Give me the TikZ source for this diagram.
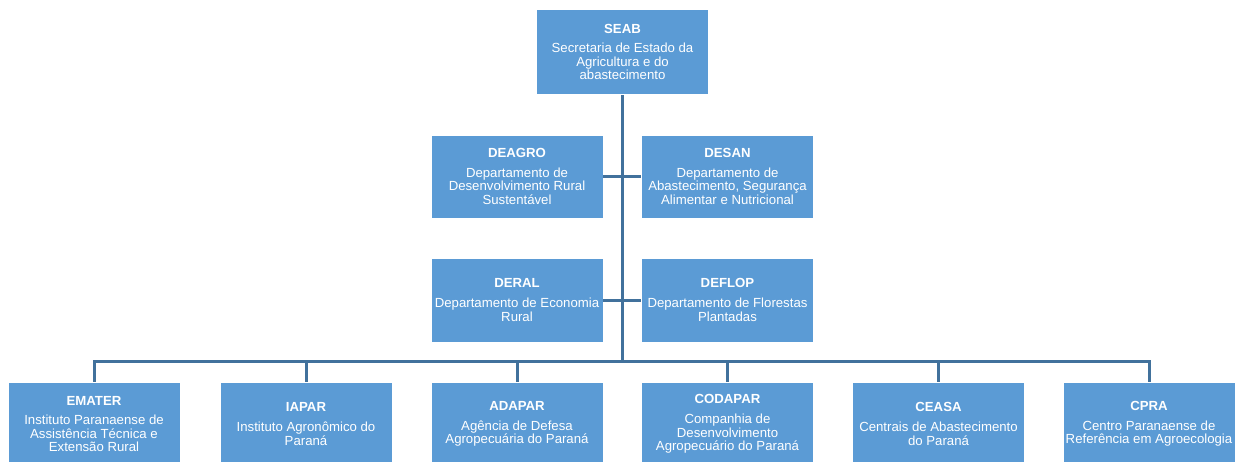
\documentclass[tikz,border=0pt]{standalone}
\usepackage{fontspec}
\setmainfont{Liberation Sans}
\definecolor{boxblue}{HTML}{5B9BD5}
\definecolor{linkblue}{HTML}{41719C}
\begin{document}
\begin{tikzpicture}[x=1pt,y=-1pt,
  orgbox/.style={draw=white, line width=0.6pt, fill=boxblue, text=white,
    minimum width=172pt, minimum height=84pt, align=center, inner sep=1pt,
    font=\fontsize{13.2}{13.6}\selectfont},
  link/.style={draw=linkblue, line width=3pt}]
\useasboundingbox (0,0) rectangle (1235,461);
\clip (0,0) rectangle (1235,461);
\node[orgbox, minimum height=85pt] (seab) at (622.5,52) {\textbf{SEAB}\\[6pt]Secretaria de Estado da\\Agricultura e do\\abastecimento};
\node[orgbox, minimum height=83pt] (deagro) at (517,176.5) {\textbf{DEAGRO}\\[6pt]Departamento de\\Desenvolvimento Rural\\Sustentável};
\node[orgbox, minimum height=83pt] (desan) at (727.5,176.5) {\textbf{DESAN}\\[6pt]Departamento de\\Abastecimento, Segurança\\Alimentar e Nutricional};
\node[orgbox] (deral) at (517,300) {\textbf{DERAL}\\[6pt]Departamento de Economia\\Rural};
\node[orgbox] (deflop) at (727.5,300) {\textbf{DEFLOP}\\[6pt]Departamento de Florestas\\Plantadas};
\node[orgbox] (emater) at (94,424) {\textbf{EMATER}\\[6pt]Instituto Paranaense de\\Assistência Técnica e\\Extensão Rural};
\node[orgbox] (iapar) at (306,424) {\textbf{IAPAR}\\[6pt]Instituto Agronômico do\\Paraná};
\node[orgbox] (adapar) at (517,424) {\textbf{ADAPAR}\\[6pt]Agência de Defesa\\Agropecuária do Paraná};
\node[orgbox] (codapar) at (727.5,424) {\textbf{CODAPAR}\\[6pt]Companhia de\\Desenvolvimento\\Agropecuário do Paraná};
\node[orgbox] (ceasa) at (938.5,424) {\textbf{CEASA}\\[6pt]Centrais de Abastecimento\\do Paraná};
\node[orgbox] (cpra) at (1149,424) {\textbf{CPRA}\\[6pt]Centro Paranaense de\\Referência em Agroecologia};
\coordinate (top) at (622,95);
\coordinate (bus) at (622,361);
\draw[link] (top) -- (bus);
\draw[link] (deagro.east) -- (desan.west);
\draw[link] (deral.east) -- (deflop.west);
\foreach \n in {emater,iapar,adapar,codapar,ceasa,cpra}
  \draw[link, line join=miter] (bus) -| (\n.north);
\end{tikzpicture}
\end{document}
